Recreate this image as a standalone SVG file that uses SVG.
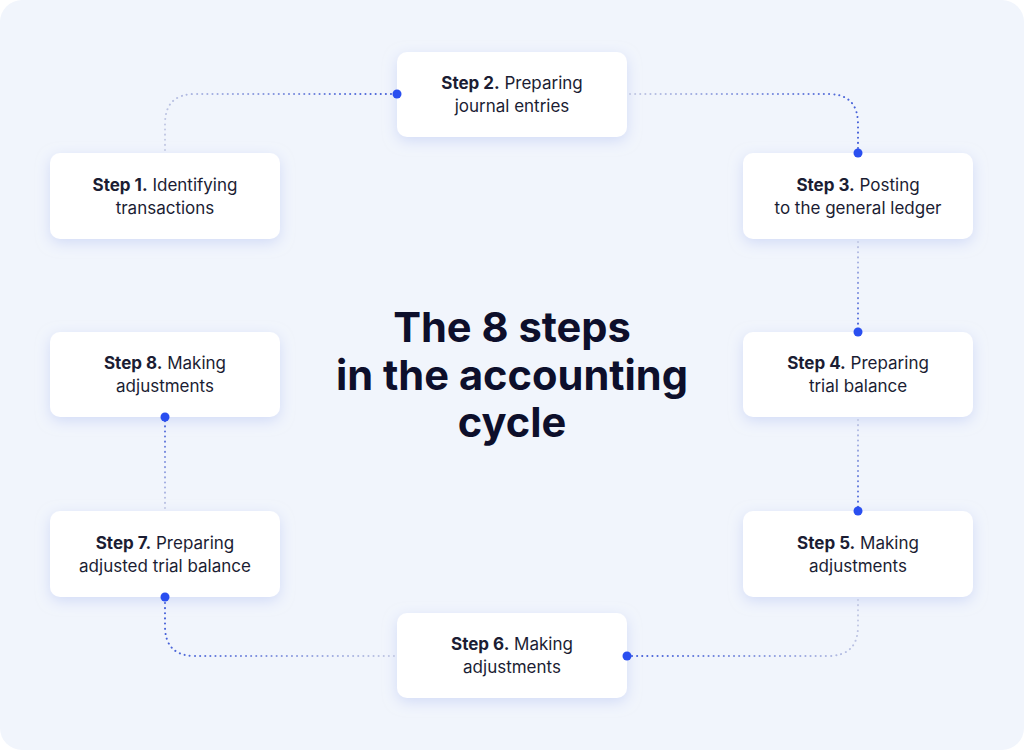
<svg xmlns="http://www.w3.org/2000/svg" width="1024" height="750" viewBox="0 0 1024 750">
<style>
.box{fill:#ffffff;filter:url(#sh)}
.t{font-family:Inter,"Liberation Sans",sans-serif;font-size:17px;fill:#1b1d33;text-anchor:middle}
.b{font-weight:700}
.title{font-family:Inter,"Liberation Sans",sans-serif;font-size:41.6px;font-weight:700;fill:#0d0f2b;text-anchor:middle}
.c{fill:none;stroke-width:2;stroke-dasharray:0.1 5;stroke-linecap:round}
.dot{fill:#2a4ff0}
</style>
<defs>
<filter id="sh" x="-20%" y="-40%" width="140%" height="180%">
<feDropShadow dx="0" dy="4" stdDeviation="7" flood-color="#b9c6f2" flood-opacity="0.55"/>
</filter>
<linearGradient id="g1" gradientUnits="userSpaceOnUse" x1="165" y1="153" x2="397" y2="94"><stop offset="0" stop-color="#c3c9e3"/><stop offset="1" stop-color="#3f5bd8"/></linearGradient>
<linearGradient id="g2" gradientUnits="userSpaceOnUse" x1="627" y1="94" x2="858" y2="153"><stop offset="0" stop-color="#c3c9e3"/><stop offset="1" stop-color="#3f5bd8"/></linearGradient>
<linearGradient id="g3" gradientUnits="userSpaceOnUse" x1="858" y1="239" x2="858" y2="332"><stop offset="0" stop-color="#c3c9e3"/><stop offset="1" stop-color="#3f5bd8"/></linearGradient>
<linearGradient id="g4" gradientUnits="userSpaceOnUse" x1="858" y1="417" x2="858" y2="511"><stop offset="0" stop-color="#c3c9e3"/><stop offset="1" stop-color="#3f5bd8"/></linearGradient>
<linearGradient id="g5" gradientUnits="userSpaceOnUse" x1="858" y1="597" x2="627" y2="656"><stop offset="0" stop-color="#c3c9e3"/><stop offset="1" stop-color="#3f5bd8"/></linearGradient>
<linearGradient id="g6" gradientUnits="userSpaceOnUse" x1="397" y1="656" x2="165" y2="597"><stop offset="0" stop-color="#c3c9e3"/><stop offset="1" stop-color="#3f5bd8"/></linearGradient>
<linearGradient id="g7" gradientUnits="userSpaceOnUse" x1="165" y1="511" x2="165" y2="417"><stop offset="0" stop-color="#c3c9e3"/><stop offset="1" stop-color="#3f5bd8"/></linearGradient>
</defs>
<rect width="1024" height="750" fill="#ffffff"/>
<rect width="1024" height="750" rx="22" fill="#f1f5fc"/>
<g id="step1"><rect class="box" x="50" y="153" width="230" height="86" rx="10"/><text class="t" x="165" y="191"><tspan class="b">Step 1.</tspan> Identifying</text><text class="t" x="165" y="214">transactions</text></g>
<g id="step2"><rect class="box" x="397" y="52" width="230" height="85" rx="10"/><text class="t" x="512" y="89"><tspan class="b">Step 2.</tspan> Preparing</text><text class="t" x="512" y="112">journal entries</text></g>
<g id="step3"><rect class="box" x="743" y="153" width="230" height="86" rx="10"/><text class="t" x="858" y="191"><tspan class="b">Step 3.</tspan> Posting</text><text class="t" x="858" y="214">to the general ledger</text></g>
<g id="step4"><rect class="box" x="743" y="332" width="230" height="85" rx="10"/><text class="t" x="858" y="369"><tspan class="b">Step 4.</tspan> Preparing</text><text class="t" x="858" y="392">trial balance</text></g>
<g id="step5"><rect class="box" x="743" y="511" width="230" height="86" rx="10"/><text class="t" x="858" y="549"><tspan class="b">Step 5.</tspan> Making</text><text class="t" x="858" y="572">adjustments</text></g>
<g id="step6"><rect class="box" x="397" y="613" width="230" height="85" rx="10"/><text class="t" x="512" y="650"><tspan class="b">Step 6.</tspan> Making</text><text class="t" x="512" y="673">adjustments</text></g>
<g id="step7"><rect class="box" x="50" y="511" width="230" height="86" rx="10"/><text class="t" x="165" y="549"><tspan class="b">Step 7.</tspan> Preparing</text><text class="t" x="165" y="572">adjusted trial balance</text></g>
<g id="step8"><rect class="box" x="50" y="332" width="230" height="85" rx="10"/><text class="t" x="165" y="369"><tspan class="b">Step 8.</tspan> Making</text><text class="t" x="165" y="392">adjustments</text></g>
<g id="title"><text class="title" x="512" y="342">The 8 steps</text><text class="title" x="512" y="390">in the accounting</text><text class="title" x="512" y="437">cycle</text></g>
<g id="connectors">
<path class="c" stroke="url(#g1)" d="M165,150 V124 Q165,94 195,94 H395"/>
<path class="c" stroke="url(#g2)" d="M630,94 H828 Q858,94 858,124 V151"/>
<path class="c" stroke="url(#g3)" d="M858,242 V330"/>
<path class="c" stroke="url(#g4)" d="M858,420 V509"/>
<path class="c" stroke="url(#g5)" d="M858,600 V626 Q858,656 828,656 H629"/>
<path class="c" stroke="url(#g6)" d="M394,656 H195 Q165,656 165,626 V599"/>
<path class="c" stroke="url(#g7)" d="M165,508 V419"/>
<circle class="dot" cx="397" cy="94" r="4.5"/>
<circle class="dot" cx="858" cy="153" r="4.5"/>
<circle class="dot" cx="858" cy="332" r="4.5"/>
<circle class="dot" cx="858" cy="511" r="4.5"/>
<circle class="dot" cx="627" cy="656" r="4.5"/>
<circle class="dot" cx="165" cy="597" r="4.5"/>
<circle class="dot" cx="165" cy="417" r="4.5"/>
</g>
</svg>
